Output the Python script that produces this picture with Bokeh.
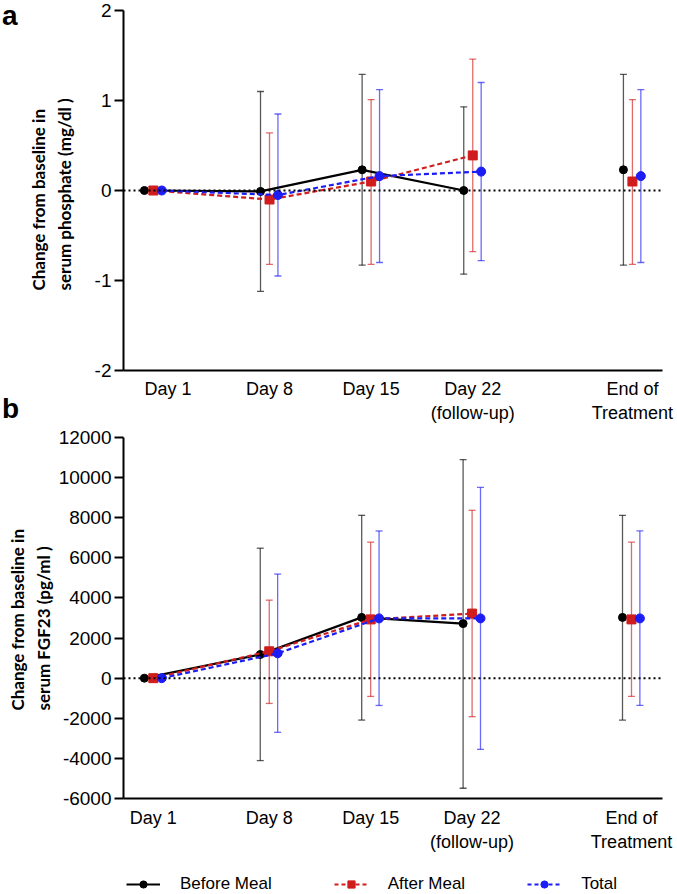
import numpy as np
from bokeh.plotting import figure
from bokeh.models import (ColumnDataSource, Whisker, TeeHead, Span, Title, Legend,
                          LegendItem, FixedTicker, Range1d, Div, GridBox)
from bokeh.embed import file_html
from bokeh.resources import INLINE

# ---------------- data ----------------
categories = ["Day 1", "Day 8", "Day 15", "Day 22\n(follow-up)", "End of\nTreatment"]
x_days = [0, 8, 15, 22, 33]          # plotting position of each visit
n_connected = 4                       # visits joined by lines (Day 1..Day 22)
ticks_a = [1, 8, 15, 22, 33]
ticks_b = [0, 8, 15, 22, 33]
series_names = ["Before Meal", "After Meal", "Total"]

# panel a: serum phosphate (mg/dl)
phos_before = [0.00, -0.01, 0.23, 0.00, 0.23]
phos_before_hi = [0.00, 1.10, 1.29, 0.93, 1.29]
phos_before_lo = [0.00, -1.12, -0.83, -0.93, -0.83]
phos_after = [0.00, -0.10, 0.10, 0.39, 0.10]
phos_after_hi = [0.00, 0.64, 1.01, 1.46, 1.01]
phos_after_lo = [0.00, -0.82, -0.82, -0.68, -0.82]
phos_total = [0.00, -0.05, 0.16, 0.21, 0.16]
phos_total_hi = [0.00, 0.85, 1.12, 1.20, 1.12]
phos_total_lo = [0.00, -0.95, -0.80, -0.78, -0.80]
phos_yticks = [-2, -1, 0, 1, 2]

# panel b: serum FGF23 (pg/ml)
fgf_before = [0, 1180, 3030, 2720, 3030]
fgf_before_hi = [0, 6480, 8120, 10900, 8120]
fgf_before_lo = [0, -4110, -2090, -5490, -2090]
fgf_after = [0, 1340, 2930, 3220, 2930]
fgf_after_hi = [0, 3890, 6780, 8370, 6780]
fgf_after_lo = [0, -1260, -910, -1920, -910]
fgf_total = [0, 1240, 2980, 2980, 2980]
fgf_total_hi = [0, 5190, 7340, 9510, 7340]
fgf_total_lo = [0, -2700, -1360, -3550, -1360]
fgf_yticks = [-6000, -4000, -2000, 0, 2000, 4000, 6000, 8000, 10000, 12000]

# ---------------- styles ----------------
TICK_FONT = "Liberation Sans"
TITLE_FONT = "Lato"
colors = ["#000000", "#d01c1c", "#1c1cf5"]
markers = ["circle", "square", "circle"]
msizes = [8, 9, 9]
dashes = ["solid", "5 3", "5 3"]
offsets = [-0.62, 0.0, 0.58]
PX_PER_DAY = 14.57
W = 677


def make_panel(height, left, top, bottom, frame_w, y_lo, y_hi, yticks, xticks, series,
               title_lines, title_standoffs, title_offset, xlab_standoff, spacer):
    x0 = -30 / PX_PER_DAY
    x1 = x0 + frame_w / PX_PER_DAY
    p = figure(width=W, height=height, output_backend="svg", toolbar_location=None,
               x_range=Range1d(x0, x1), y_range=Range1d(y_lo, y_hi),
               min_border_left=left, min_border_right=W - left - frame_w,
               min_border_top=top, min_border_bottom=bottom)
    p.outline_line_color = None
    p.grid.visible = False
    p.background_fill_color = None
    p.border_fill_color = None

    # axes
    p.xaxis.ticker = FixedTicker(ticks=xticks)
    p.xaxis.major_label_overrides = {t: c for t, c in zip(xticks, categories)}
    p.xaxis.major_tick_line_color = None
    p.xaxis.major_tick_out = 0
    p.xaxis.major_tick_in = 0
    p.xaxis.minor_tick_line_color = None
    p.xaxis.axis_line_width = 2
    p.xaxis.major_label_standoff = xlab_standoff
    p.xaxis.major_label_text_font = TICK_FONT
    p.xaxis.major_label_text_font_size = "18px"
    p.xaxis.major_label_text_color = "black"

    p.yaxis.ticker = FixedTicker(ticks=yticks)
    p.yaxis.major_label_overrides = {t: str(t) for t in yticks}
    p.yaxis.minor_tick_line_color = None
    p.yaxis.axis_line_width = 2
    p.yaxis.major_tick_line_width = 2
    p.yaxis.major_tick_out = 9
    p.yaxis.major_tick_in = 0
    p.yaxis.major_label_standoff = 3
    p.yaxis.major_label_text_font = TICK_FONT
    p.yaxis.major_label_text_font_size = "19px"
    p.yaxis.major_label_text_color = "black"

    # zero line
    p.add_layout(Span(location=0, dimension="width", line_color="black",
                      line_width=2, line_dash="2 3"))

    for k, (ys, his, los) in enumerate(series):
        xs = [d + offsets[k] for d in x_days]
        keep = [i for i in range(len(xs)) if his[i] != los[i]]
        esrc = ColumnDataSource(dict(x=[xs[i] for i in keep],
                                     upper=[his[i] for i in keep],
                                     lower=[los[i] for i in keep]))
        w = Whisker(base="x", upper="upper", lower="lower", source=esrc,
                    dimension="height", line_color=colors[k], line_alpha=0.65,
                    line_width=1.3,
                    upper_head=TeeHead(size=7, line_color=colors[k], line_alpha=0.65, line_width=1.3),
                    lower_head=TeeHead(size=7, line_color=colors[k], line_alpha=0.65, line_width=1.3))
        p.add_layout(w)
        lsrc = ColumnDataSource(dict(x=xs[:n_connected], y=ys[:n_connected]))
        p.line("x", "y", source=lsrc, line_color=colors[k], line_width=2.2,
               line_dash=dashes[k])
        ssrc = ColumnDataSource(dict(x=xs, y=ys))
        p.scatter("x", "y", source=ssrc, marker=markers[k], size=msizes[k],
                  fill_color=colors[k], line_color=colors[k])

    # optional blank gap between tick labels and the axis title
    if spacer:
        p.add_layout(Title(text="\u00a0", text_font_size="4px", standoff=spacer), "left")
    # y axis title: two lines (second line nearest the axis), start-aligned
    for txt, so in zip(reversed(title_lines), reversed(title_standoffs)):
        p.add_layout(Title(text=txt, align="left", offset=title_offset, standoff=so,
                           text_font=TITLE_FONT, text_font_style="bold",
                           text_font_size="17px", text_color="black"), "left")
    return p


pa = make_panel(425, 123, 10, 55, 541, -2, 2, phos_yticks, ticks_a,
                [(phos_before, phos_before_hi, phos_before_lo),
                 (phos_after, phos_after_hi, phos_after_lo),
                 (phos_total, phos_total_hi, phos_total_lo)],
                ["Change from baseline in", "serum phosphate (mg/dl )"],
                [3, 2], 80, 8, 9)

pb = make_panel(430, 120, 12, 57, 542, -6000, 12000, fgf_yticks, ticks_b,
                [(fgf_before, fgf_before_hi, fgf_before_lo),
                 (fgf_after, fgf_after_hi, fgf_after_lo),
                 (fgf_total, fgf_total_hi, fgf_total_lo)],
                ["Change from baseline in", "serum FGF23 (pg/ml )"],
                [3, 3], 88, 9, 0)

# legend strip (renderers hold one empty point so that only the legend shows)
pl = figure(width=W, height=39, output_backend="svg", toolbar_location=None,
            x_range=Range1d(0, 1), y_range=Range1d(0, 1),
            x_axis_location=None, y_axis_location=None,
            min_border_left=123, min_border_right=13, min_border_top=0, min_border_bottom=0)
pl.outline_line_color = None
pl.grid.visible = False
pl.background_fill_color = None
pl.border_fill_color = None
items = []
for k, name in enumerate(series_names):
    src = ColumnDataSource(dict(x=np.array([np.nan]), y=np.array([np.nan])))
    lr = pl.line("x", "y", source=src, line_color=colors[k], line_width=2,
                 line_dash="4 3" if dashes[k] != "solid" else "solid")
    sr = pl.scatter("x", "y", source=src, marker=markers[k], size=6,
                    fill_color=colors[k], line_color=colors[k])
    items.append(LegendItem(label=name, renderers=[lr, sr]))
legend = Legend(items=items, orientation="horizontal", location=(3, 0),
                border_line_color=None, background_fill_alpha=0,
                label_text_font=TICK_FONT, label_text_font_size="17px",
                label_text_color="black",
                glyph_width=34, glyph_height=18, label_height=18, label_standoff=20,
                spacing=62, padding=0, margin=0)
pl.add_layout(legend, "center")

letter_style = "font-family:'Liberation Sans';font-weight:bold;font-size:28px;line-height:31px;color:black;"
div_a = Div(text=f'<div style="{letter_style}">a</div>', width=24, height=31, margin=(0, 0, 0, 2))
div_b = Div(text=f'<div style="{letter_style}">b</div>', width=24, height=31, margin=(393, 0, 0, 2))

layout = GridBox(children=[(pa, 0, 0), (pb, 1, 0), (pl, 2, 0), (div_a, 0, 0), (div_b, 0, 0)],
                 spacing=0)
open("out.html", "w").write(file_html(layout, INLINE))
